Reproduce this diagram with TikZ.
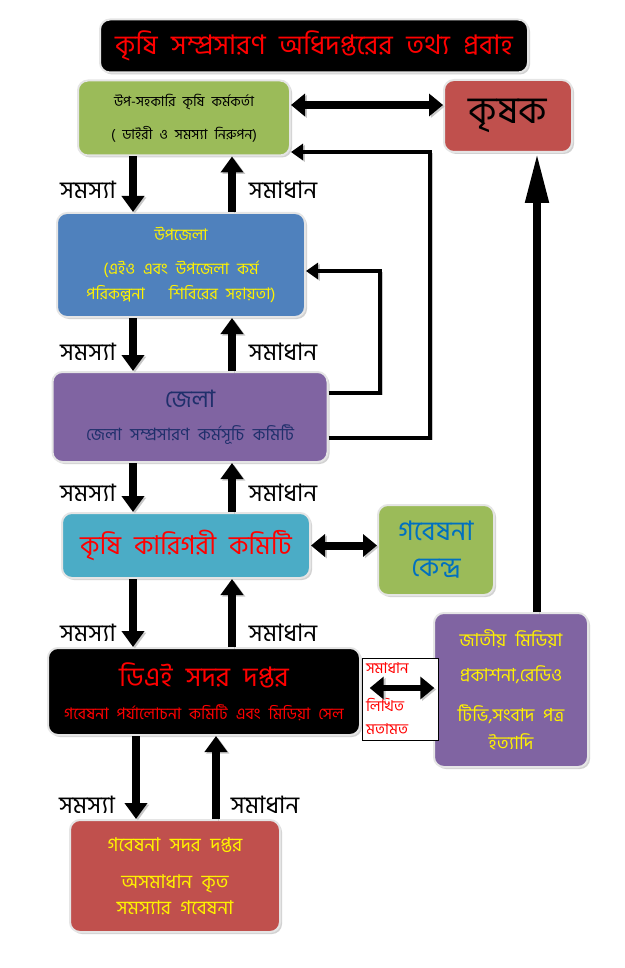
\documentclass[tikz,border=0pt]{standalone}
\usepackage{fontspec}
\setmainfont[Script=Bengali, WordSpace=2.2]{Hind Siliguri}
\usetikzlibrary{positioning, shadows, arrows.meta}
\definecolor{olivegrn}{HTML}{9BBB59}
\definecolor{brick}{HTML}{C0504D}
\definecolor{steel}{HTML}{4F81BD}
\definecolor{plum}{HTML}{8064A2}
\definecolor{aqua}{HTML}{4BACC6}
\definecolor{navy}{HTML}{1F2F6B}
\definecolor{kendroblue}{HTML}{0070C0}
\newcommand{\fsz}[1]{\fontsize{#1}{#1}\selectfont}

\begin{document}
\begin{tikzpicture}[x=1pt,y=-1pt]
\tikzstyle{box}=[%
rounded corners=10pt, draw=white!90!black, line width=2pt,
align=center, inner sep=0pt,
drop shadow={shadow xshift=2pt, shadow yshift=-2pt, fill=black!35}
]
\tikzstyle{arr}=[black, line width=8pt, -{Triangle[length=16pt,width=22pt]},
preaction={draw=black!22, transform canvas={shift={(1.8pt,-1.5pt)}}}]
\tikzstyle{dbl}=[arr, {Triangle[length=14pt,width=22pt]}-{Triangle[length=14pt,width=22pt]}]
\tikzstyle{loopy}=[black, line width=4pt, -{Triangle[length=12pt,width=16pt]},
preaction={draw=black!22, transform canvas={shift={(1.8pt,-1.5pt)}}}]
\tikzstyle{lbl}=[font=\fsz{24}, inner sep=0pt]
\useasboundingbox (0,0) rectangle (624,968);

   % boxes
   \node[box, fill=black, text=red, minimum width=428pt, minimum height=53pt, font=\fsz{27}] (title) at (314,46) {কৃষি সম্প্রসারণ অধিদপ্তরের তথ্য প্রবাহ};
   \node[box, fill=olivegrn, minimum width=212pt, minimum height=75pt, font=\fsz{14}] (upsa) at (184,118) {উপ-সহকারি কৃষি কর্মকর্তা\\[16pt]( ডাইরী ও সমস্যা নিরুপন)};
   \node[box, fill=brick, minimum width=128pt, minimum height=72pt, font=\fsz{38}] (krishok) at (508,116) {কৃষক};
   \node[box, fill=steel, text=yellow, minimum width=248pt, minimum height=104pt, font=\fsz{16}] (upz) at (181,265) {উপজেলা\\[18pt](এইও এবং উপজেলা কর্ম\\[6pt]পরিকল্পনা \quad শিবিরের সহায়তা)};
   \node[box, fill=plum, text=navy, minimum width=275pt, minimum height=90pt] (zila) at (190,417) {{\fsz{24}জেলা}\\[16pt]{\fsz{17}জেলা সম্প্রসারণ কর্মসূচি কমিটি}};
   \node[box, fill=aqua, text=red, minimum width=248pt, minimum height=65pt, font=\fsz{26}] (kkc) at (186,545.5) {কৃষি কারিগরী কমিটি};
   \node[box, fill=olivegrn, text=kendroblue, minimum width=116pt, minimum height=90pt, font=\fsz{27}] (gob) at (436,550) {গবেষনা\\[9pt]কেন্দ্র};
   \node[box, fill=black, text=red, minimum width=312pt, minimum height=87pt] (dae) at (204,691.5) {{\fsz{27}ডিএই সদর দপ্তর}\\[16pt]{\fsz{16}গবেষনা পর্যালোচনা কমিটি এবং মিডিয়া সেল}};
   \node[box, fill=plum, text=yellow, minimum width=154pt, minimum height=154pt, font=\fsz{18}] (media) at (511,690) {জাতীয় মিডিয়া\\[17pt]প্রকাশনা,রেডিও\\[20pt]টিভি,সংবাদ পত্র\\[9pt]ইত্যাদি};
   \node[draw=black, line width=.6pt, fill=white, text=red, minimum width=76pt, minimum height=82pt, text width=68pt, align=left, inner sep=0pt, font=\fsz{15}] (mat) at (400,699) {সমাধান\\[23pt]লিখিত\\[8pt]মতামত};
   \node[box, fill=brick, text=yellow, minimum width=210pt, minimum height=112pt, font=\fsz{19}] (gsd) at (175,876) {গবেষনা সদর দপ্তর\\[18pt]অসমাধান কৃত\\[7pt]সমস্যার গবেষনা};

   % columns and bends
   \coordinate (L) at (133,0);
   \coordinate (R) at (232,0);
   \coordinate (L2) at (136,0);
   \coordinate (R2) at (216,0);
   \coordinate (K) at (537,0);
   \coordinate (o1) at (430,438);
   \coordinate (o2) at (430,152);
   \coordinate (i1) at (380,393);
   \coordinate (i2) at (380,271);

   % up and down
   \draw[arr] (upsa.south -| L) -- (upz.north -| L);
   \draw[arr] (upz.north -| R) -- (upsa.south -| R);
   \draw[arr] (upz.south -| L) -- (zila.north -| L);
   \draw[arr] (zila.north -| R) -- (upz.south -| R);
   \draw[arr] (zila.south -| L) -- (kkc.north -| L);
   \draw[arr] (kkc.north -| R) -- (zila.south -| R);
   \draw[arr] (kkc.south -| L) -- (dae.north -| L);
   \draw[arr] (dae.north -| R) -- (kkc.south -| R);
   \draw[arr] (dae.south -| L2) -- (gsd.north -| L2);
   \draw[arr] (gsd.north -| R2) -- (dae.south -| R2);
   \draw[arr, -{Triangle[length=50pt,width=22pt]}] (media.north -| K) -- (krishok.south -| K);

   % sideways
   \draw[dbl] ([yshift=13pt]upsa.east) -- ([yshift=13pt]upsa.east -| krishok.west);
   \draw[dbl] (kkc.east) -- (kkc.east -| gob.west);
   \draw[dbl, line width=6pt] ([shift={(8,-11)}]mat.west) -- ([shift={(-4,-11)}]mat.east);
   \draw[loopy] (zila.east |- o1) -- (o1) -- (o2) -- (upsa.east |- o2);
   \draw[loopy] (zila.east |- i1) -- (i1) -- (i2) -- (upz.east |- i2);

   % labels
   \foreach \y in {190,352,493,633} {
      \node[lbl] (p\y) at (88,\y) {সমস্যা};
      \node[lbl] (s\y) at (283,\y) {সমাধান};
   }
   \node[lbl] (p805) at (87,805) {সমস্যা};
   \node[lbl] (s805) at (265,805) {সমাধান};
\end{tikzpicture}
\end{document}
